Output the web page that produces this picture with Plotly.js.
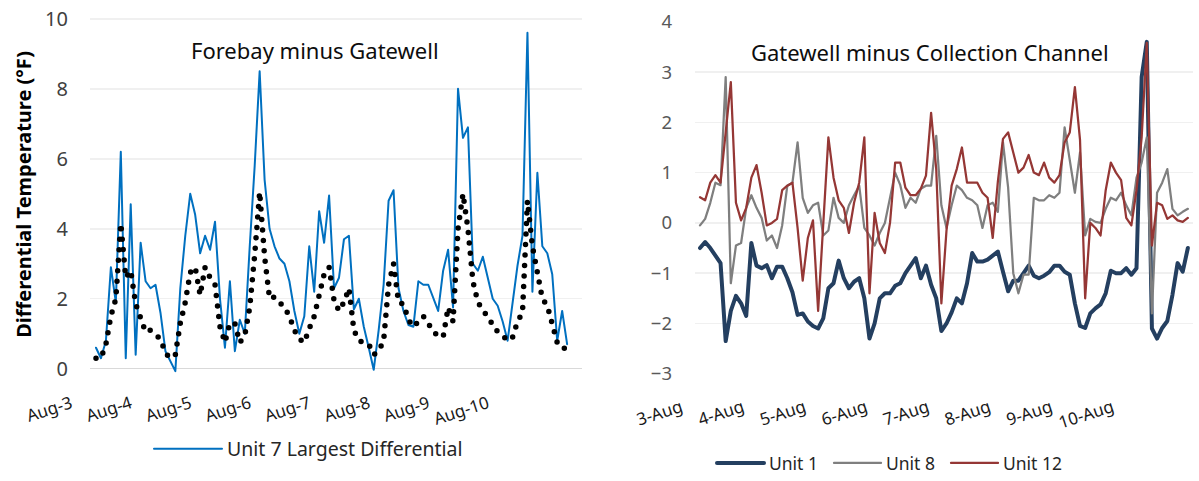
<!DOCTYPE html>
<html>
<head>
<meta charset="utf-8">
<script src="https://cdn.plot.ly/plotly-3.0.1.min.js"></script>
<style>
html,body{margin:0;padding:0;background:#fff;}
#chart{width:1199px;height:481px;}
.js-line{stroke-linecap:round !important;stroke-linejoin:round !important;}
</style>
</head>
<body>
<div id="chart"></div>
<script>
// ---- data: readings every 2 hours starting 3 Aug 00:00 ----
const stepHours = 2;
const dayTicksLeft = ['Aug-3','Aug-4','Aug-5','Aug-6','Aug-7','Aug-8','Aug-9','Aug-10'];
const dayTicksRight = ['3-Aug','4-Aug','5-Aug','6-Aug','7-Aug','8-Aug','9-Aug','10-Aug'];

const unit7Largest = [0.6,0.3,0.8,2.9,1.9,6.2,0.3,4.7,0.4,3.6,
  2.5,2.3,2.4,1.6,0.5,0.2,-0.07,2.3,3.8,5.0,
  4.4,3.3,3.8,3.4,4.2,2.0,0.6,2.5,0.5,1.4,
  1.0,3.5,5.8,8.5,5.4,4.0,3.5,3.15,3.0,2.5,
  1.65,1.0,1.5,3.5,2.2,4.5,3.6,4.95,2.3,2.6,
  3.7,3.8,1.7,2.0,1.2,0.6,-0.03,1.1,2.4,4.8,
  5.1,2.3,1.65,1.25,1.2,2.5,2.4,2.4,2.0,1.65,
  2.8,3.4,1.75,8.0,6.6,6.9,3.0,2.8,3.2,2.6,
  2.0,1.8,1.35,0.8,1.9,2.95,3.8,9.6,2.2,5.6,
  3.5,3.3,2.7,0.8,1.65,0.7];

const unit7Typical = [0.3,0.3,0.7,1.5,2.0,4.15,2.6,2.8,1.85,1.45,
  1.05,1.1,0.95,0.85,0.45,0.3,0.4,1.3,1.9,2.75,
  2.9,2.1,2.9,2.6,2.4,1.2,0.75,1.3,1.3,0.75,
  0.95,1.75,3.25,5.05,3.2,2.0,2.05,1.9,1.75,1.5,
  1.1,0.85,0.75,1.15,1.5,2.1,2.7,2.9,1.95,1.65,
  1.9,2.3,1.1,0.8,0.75,0.7,0.4,0.5,0.8,2.4,
  3.0,1.9,1.85,1.4,1.2,1.35,1.5,1.3,1.05,0.95,
  0.9,1.75,1.35,4.0,5.0,4.0,2.5,1.9,1.7,1.5,
  1.3,1.05,0.95,0.8,0.9,1.35,1.6,4.8,3.5,2.7,
  2.0,1.8,1.3,0.75,0.7,0.43];

const unit1 = [-0.5,-0.38,-0.5,-0.65,-0.8,-2.35,-1.75,-1.45,-1.6,-1.85,
  -0.4,-0.85,-0.9,-0.84,-1.1,-0.87,-0.87,-1.1,-1.38,-1.83,
  -1.8,-1.96,-2.05,-2.1,-1.9,-1.3,-1.2,-0.75,-1.1,-1.3,
  -1.17,-1.1,-1.5,-2.3,-2.0,-1.5,-1.4,-1.4,-1.25,-1.2,
  -1.0,-0.85,-0.7,-1.1,-0.85,-1.23,-1.5,-2.15,-2.0,-1.78,
  -1.5,-1.6,-1.2,-0.6,-0.77,-0.77,-0.73,-0.65,-0.57,-0.97,
  -1.36,-1.15,-1.15,-1.0,-0.85,-1.05,-1.1,-1.05,-0.98,-0.85,
  -0.85,-0.97,-1.03,-1.6,-2.05,-2.09,-1.8,-1.7,-1.62,-1.4,
  -0.95,-1.0,-1.0,-0.9,-1.03,-0.9,2.9,3.6,-2.1,-2.3,
  -2.09,-1.95,-1.43,-0.8,-0.97,-0.5];

const unit8 = [-0.05,0.08,0.4,0.8,0.75,2.9,-1.2,-0.45,-0.4,0.3,
  0.55,0.3,0.1,-0.35,-0.25,-0.5,-0.05,0.74,0.8,1.6,
  0.5,0.2,0.35,0.4,-0.25,-0.15,0.5,0.1,0.0,0.35,
  0.55,0.74,-0.1,-0.25,-0.45,-0.2,0.0,0.5,1.0,0.75,
  0.3,0.5,0.4,0.68,0.74,0.74,1.73,0.35,-0.1,0.35,
  0.74,0.65,0.5,0.45,0.35,-0.1,0.35,0.4,0.22,1.6,
  0.7,-1.0,-1.4,-1.03,-1.03,0.5,0.45,0.45,0.55,0.5,
  0.6,1.9,1.2,0.6,1.4,-0.25,0.08,0.02,0.0,0.28,
  0.5,0.45,0.6,0.35,0.15,0.9,1.2,1.7,-1.8,0.6,
  0.8,1.07,0.28,0.15,0.22,0.28];

const unit12 = [0.51,0.45,0.8,0.95,0.8,1.8,2.8,0.4,0.05,0.3,
  0.9,1.15,0.6,-0.05,0.0,0.08,0.65,0.74,0.8,-0.1,
  -1.15,-0.3,0.05,-1.75,0.0,1.7,0.9,0.45,0.3,-0.2,
  0.4,0.8,1.7,-1.4,0.2,-0.4,-0.6,0.0,1.2,1.2,
  0.7,0.55,0.55,0.68,0.94,2.19,1.07,-1.6,-0.15,0.74,
  1.07,1.5,0.8,0.8,0.8,0.6,0.5,-0.3,0.82,1.67,
  1.8,1.4,1.0,1.1,1.35,1.0,0.95,1.2,0.9,0.8,
  0.95,1.6,1.8,2.7,1.65,-1.5,0.0,-0.1,-0.25,0.65,
  1.2,1.0,0.85,0.1,-0.05,0.65,1.7,3.58,-0.45,0.4,
  0.35,0.08,0.15,0.05,0.02,0.1];

// time axis (hours since 3 Aug 00:00)
const hours = unit7Largest.map((_, i) => i * stepHours);
const dayHours = dayTicksLeft.map((_, d) => d * 24);

// ---- layout helpers (pixel -> paper) ----
const W = 1199, H = 481;
const fx = px => px / W;
const fy = px => 1 - px / H;
const FONT = 'Noto Sans, Open Sans, sans-serif';
const LEG1_SAMPLE = 68, LEG2_SAMPLE = 47;

const traces = [
  {x: hours, y: unit7Largest, type: 'scatter', mode: 'lines', name: 'Unit 7 Largest Differential',
   line: {color: '#0070C0', width: 2}, xaxis: 'x', yaxis: 'y', legend: 'legend'},
  {x: hours, y: unit7Typical, type: 'scatter', mode: 'lines', name: 'Unit 7 Differential',
   line: {color: '#000000', width: 5.5, dash: '0px,10.5px'}, xaxis: 'x', yaxis: 'y', showlegend: false},
  {x: hours, y: unit1, type: 'scatter', mode: 'lines', name: 'Unit 1',
   line: {color: '#243F60', width: 4}, xaxis: 'x2', yaxis: 'y2', legend: 'legend2'},
  {x: hours, y: unit8, type: 'scatter', mode: 'lines', name: 'Unit 8',
   line: {color: '#7F7F7F', width: 2.25}, xaxis: 'x2', yaxis: 'y2', legend: 'legend2'},
  {x: hours, y: unit12, type: 'scatter', mode: 'lines', name: 'Unit 12',
   line: {color: '#953735', width: 2.25}, xaxis: 'x2', yaxis: 'y2', legend: 'legend2'}
];

const layout = {
  width: W, height: H,
  margin: {l: 0, r: 0, t: 0, b: 0},
  paper_bgcolor: '#ffffff', plot_bgcolor: 'rgba(0,0,0,0)',
  font: {family: FONT, size: 17, color: '#262626'},
  showlegend: true,
  xaxis: {
    domain: [fx(90), fx(582)], range: [-2.42, 196.0], anchor: 'y',
    tickmode: 'array', tickvals: dayHours, ticktext: dayTicksLeft,
    tickangle: -18, ticklabelshift: -25, ticklabelstandoff: 16,
    showgrid: false, zeroline: false, showline: false, ticks: '',
    tickfont: {family: FONT, size: 17, color: '#1a1a1a'}, fixedrange: true
  },
  yaxis: {
    domain: [fy(376.3), fy(17.2)], range: [-0.15, 10.05], anchor: 'x',
    tickmode: 'array', tickvals: [0,2,4,6,8,10],
    showgrid: true, gridcolor: '#F0F0F0', gridwidth: 1.5,
    zeroline: true, zerolinecolor: '#D9D9D9', zerolinewidth: 1.5,
    showline: false, ticks: '', ticklabelstandoff: 21,
    tickfont: {family: FONT, size: 20, color: '#404040'}, fixedrange: true
  },
  xaxis2: {
    domain: [fx(695), fx(1193)], range: [-1.95, 192.0], anchor: 'y2',
    tickmode: 'array', tickvals: dayHours, ticktext: dayTicksRight,
    tickangle: -18, ticklabelshift: -19, ticklabelstandoff: 20,
    showgrid: false, zeroline: false, showline: false, ticks: '',
    tickfont: {family: FONT, size: 17, color: '#1a1a1a'}, fixedrange: true
  },
  yaxis2: {
    domain: [fy(376.1), fy(21.9)], range: [-3, 4], anchor: 'x2',
    tickmode: 'array', tickvals: [-3,-2,-1,0,1,2,3,4],
    showgrid: true, gridcolor: '#F0F0F0', gridwidth: 1.5,
    zeroline: false, showline: false, ticks: '', ticklabelstandoff: 22,
    tickfont: {family: FONT, size: 18.5, color: '#595959'}, fixedrange: true
  },
  legend: {
    orientation: 'h', x: fx(149), xanchor: 'left', y: fy(452), yanchor: 'middle',
    itemwidth: LEG1_SAMPLE,
    bgcolor: 'rgba(0,0,0,0)', font: {family: FONT, size: 19.5, color: '#262626'}
  },
  legend2: {
    orientation: 'h', x: fx(712), xanchor: 'left', y: fy(466), yanchor: 'middle',
    itemwidth: LEG2_SAMPLE, entrywidth: 55, entrywidthmode: 'pixels',
    bgcolor: 'rgba(0,0,0,0)', font: {family: FONT, size: 17.5, color: '#262626'}
  },
  annotations: [
    {text: 'Forebay minus Gatewell', xref: 'paper', yref: 'paper', x: fx(315), y: fy(50),
     xanchor: 'center', yanchor: 'middle', showarrow: false,
     font: {family: FONT, size: 22, color: '#0d0d0d'}},
    {text: 'Gatewell minus Collection Channel', xref: 'paper', yref: 'paper', x: fx(930), y: fy(52),
     xanchor: 'center', yanchor: 'middle', showarrow: false,
     font: {family: FONT, size: 22, color: '#0d0d0d'}},
    {text: '<b>Differential Temperature (°F)</b>', xref: 'paper', yref: 'paper', x: fx(24), y: fy(196),
     xanchor: 'center', yanchor: 'middle', textangle: -90, showarrow: false,
     font: {family: FONT, size: 20, color: '#000000'}}
  ]
};

Plotly.newPlot('chart', traces, layout, {displayModeBar: false, staticPlot: true}).then(() => {
  // lengthen legend line samples to match the item width
  document.querySelectorAll('g.legend .legendlines path.js-line').forEach(p => p.setAttribute('d', 'M5,0h' + LEG1_SAMPLE));
  document.querySelectorAll('g.legend2 .legendlines path.js-line').forEach(p => p.setAttribute('d', 'M5,0h' + LEG2_SAMPLE));
});
</script>
</body>
</html>
